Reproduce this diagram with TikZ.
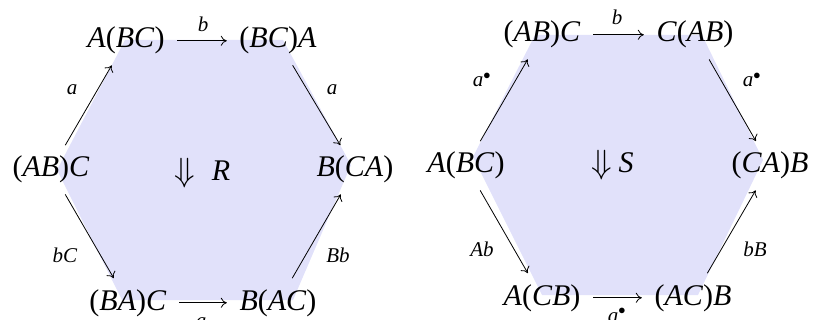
\documentclass[tikz,border=0pt]{standalone}
\usepackage{fontspec}
\setmainfont{Liberation Serif}
\usetikzlibrary{arrows.meta}
\definecolor{hexfill}{RGB}{225,225,250}
\newcommand{\itx}[1]{\textit{#1}}
\newcommand{\bigdown}{\scalebox{1.35}{$\Downarrow$}}
\begin{document}
\begin{tikzpicture}[x=1pt,y=-1pt,
  obj/.style={anchor=base, inner sep=0pt, font=\fontsize{30}{36}\selectfont},
  lab/.style={anchor=base, inner sep=0pt, font=\fontsize{21}{25}\selectfont},
  arr/.style={draw, line width=0.8pt, -{Computer Modern Rightarrow[length=6pt,width=10pt]}, shorten <=12.5pt, shorten >=12.5pt}]
\useasboundingbox (0,0) rectangle (813,320);
% hexagon fills
\fill[hexfill] (57,170) -- (125,40) -- (283,40) -- (351,165) -- (293,300) -- (122,300) -- cycle;
\fill[hexfill] (473,157) -- (535,35) -- (702,35) -- (763,160) -- (698,295) -- (542,295) -- cycle;
% left diagram
\node[obj] (l1) at (51,177) {(\itx{AB})\itx{C}};
\node[obj] (l2) at (126,48) {\itx{A}(\itx{BC})};
\node[obj] (l3) at (278,48) {(\itx{BC})\itx{A}};
\node[obj] (l4) at (355,177) {\itx{B}(\itx{CA})};
\node[obj] (l5) at (128,310) {(\itx{BA})\itx{C}};
\node[obj] (l6) at (278,310) {\itx{B}(\itx{AC})};
\node[obj] (ld) at (185,182) {\bigdown};
\node[obj] (lR) at (221,181) {\itx{R}};
\draw[arr] (l1) -- (l2);
\draw[arr] (l2) -- (l3);
\draw[arr] (l3) -- (l4);
\draw[arr] (l1) -- (l5);
\draw[arr] (l5) -- (l6);
\draw[arr] (l6) -- (l4);
\node[lab] (la1) at (72,95) {\itx{a}};
\node[lab] (lb1) at (203,32) {\itx{b}};
\node[lab] (la2) at (332,95) {\itx{a}};
\node[lab] (lbC) at (65,262) {\itx{bC}};
\node[lab] (lBb) at (338,262) {\itx{Bb}};
\node[lab] (la3) at (201,327) {\itx{a}};
% right diagram
\node[obj] (r1) at (466,173) {\itx{A}(\itx{BC})};
\node[obj] (r2) at (542,42) {(\itx{AB})\itx{C}};
\node[obj] (r3) at (695,42) {\itx{C}(\itx{AB})};
\node[obj] (r4) at (770,173) {(\itx{CA})\itx{B}};
\node[obj] (r5) at (542,305) {\itx{A}(\itx{CB})};
\node[obj] (r6) at (693,305) {(\itx{AC})\itx{B}};
\node[obj] (rd) at (602,174) {\bigdown};
\node[obj] (rS) at (626,173) {\itx{S}};
\draw[arr] (r1) -- (r2);
\draw[arr] (r2) -- (r3);
\draw[arr] (r3) -- (r4);
\draw[arr] (r1) -- (r5);
\draw[arr] (r5) -- (r6);
\draw[arr] (r6) -- (r4);
\node[lab] (ra1) at (482,87) {\itx{a}$^\bullet$};
\node[lab] (rb1) at (617,25) {\itx{b}};
\node[lab] (ra2) at (752,87) {\itx{a}$^\bullet$};
\node[lab] (rAb) at (482,257) {\itx{Ab}};
\node[lab] (rbB) at (755,257) {\itx{bB}};
\node[lab] (ra3) at (617,322) {\itx{a}$^\bullet$};
\end{tikzpicture}
\end{document}
